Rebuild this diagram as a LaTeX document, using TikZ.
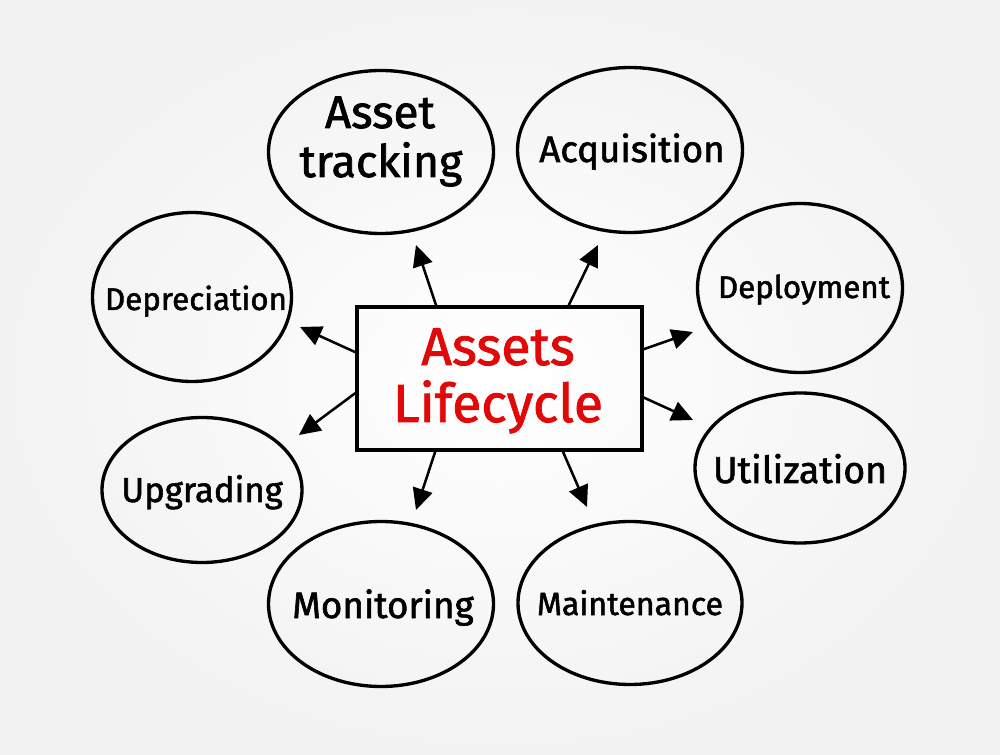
\documentclass[tikz,border=0pt]{standalone}
\usepackage{fontspec}
\setmainfont{Fira Sans}[FakeBold=1.6]
\usetikzlibrary{shapes.geometric,arrows.meta,calc}
\definecolor{hred}{RGB}{226,8,8}
\newcommand{\fitw}[2]{\resizebox{#1}{!}{#2}}
\begin{document}
\begin{tikzpicture}[x=0.75pt,y=-0.75pt,
  bubble/.style={draw=black, line width=2.5pt, ellipse, inner sep=0pt},
  lbl/.style={anchor=base, inner sep=0pt, text=black},
  title/.style={anchor=base, inner sep=0pt, text=hred},
  arr/.style={line width=1.9pt, -{Triangle[length=16pt,width=15pt]}},
  ]
\shade[inner color=white, outer color=black!5] (0,0) rectangle (1000,755);
\useasboundingbox (0,0) rectangle (1000,755);

% bubbles
\node[bubble, minimum width=168.75pt, minimum height=122.25pt] (eTrk) at (381,152) {};
\node[bubble, minimum width=168.75pt, minimum height=123.75pt] (eAcq) at (630,150) {};
\node[bubble, minimum width=153.75pt, minimum height=126.75pt] (eDpl) at (800,288) {};
\node[bubble, minimum width=157.5pt,  minimum height=112.5pt]  (eUti) at (800,468) {};
\node[bubble, minimum width=168pt,    minimum height=122.25pt] (eMai) at (630,603) {};
\node[bubble, minimum width=168.75pt, minimum height=123.75pt] (eMon) at (381,604) {};
\node[bubble, minimum width=150pt,    minimum height=108.75pt] (eUpg) at (202,490) {};
\node[bubble, minimum width=149.25pt, minimum height=126.75pt] (eDpr) at (192,297) {};

% labels
\node[lbl] (tTrkA) at (380,128) {\fitw{82.5pt}{Asset}};
\node[lbl] (tTrkB) at (381,177) {\fitw{122pt}{tracking}};
\node[lbl] (tAcq) at (632,162) {\fitw{139pt}{Acquisition}};
\node[lbl] (tDpl) at (804,298) {\fitw{129pt}{Deployment}};
\node[lbl] (tUti) at (800,483) {\fitw{130.5pt}{Utilization}};
\node[lbl] (tMai) at (630,615) {\fitw{139.5pt}{Maintenance}};
\node[lbl] (tMon) at (383,618) {\fitw{136pt}{Monitoring}};
\node[lbl] (tUpg) at (202,502) {\fitw{121pt}{Upgrading}};
\node[lbl] (tDpr) at (196,310) {\fitw{136.5pt}{Depreciation}};

% central box
\node[draw=black, line width=2.6pt, minimum width=213.75pt, minimum height=107.25pt, inner sep=0pt] (box) at (499.5,378.5) {};
\node[title] (tA) at (498,365) {\fitw{115pt}{Assets}};
\node[title] (tL) at (498,422) {\fitw{157.5pt}{Lifecycle}};

% arrow tips
\coordinate (pTrk) at (416,245);
\coordinate (pAcq) at (598,245);
\coordinate (pDpl) at (693,332);
\coordinate (pUti) at (693,420);
\coordinate (pMai) at (587,507);
\coordinate (pMon) at (416,510);
\coordinate (pUpg) at (299,435);
\coordinate (pDpr) at (300,327);

\draw[arr] ($(box.north west)!0.28!(box.north east)$) -- (pTrk);
\draw[arr] ($(box.north west)!0.74!(box.north east)$) -- (pAcq);
\draw[arr] ($(box.north east)!0.30!(box.south east)$) -- (pDpl);
\draw[arr] ($(box.north east)!0.63!(box.south east)$) -- (pUti);
\draw[arr] ($(box.south west)!0.72!(box.south east)$) -- (pMai);
\draw[arr] ($(box.south west)!0.277!(box.south east)$) -- (pMon);
\draw[arr] ($(box.north west)!0.60!(box.south west)$) -- (pUpg);
\draw[arr] ($(box.north west)!0.32!(box.south west)$) -- (pDpr);
\end{tikzpicture}
\end{document}
